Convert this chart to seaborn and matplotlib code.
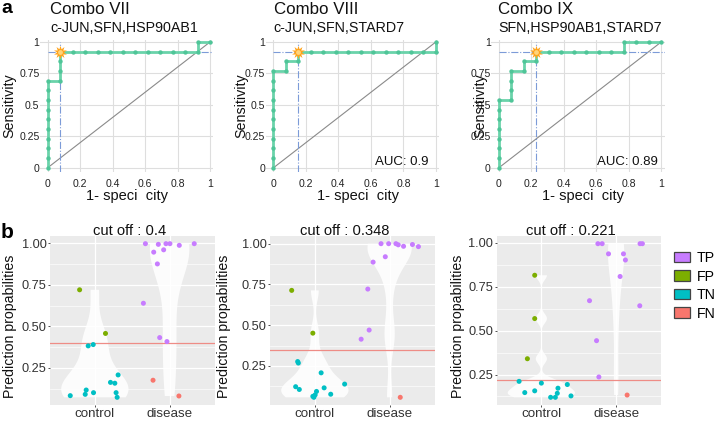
import numpy as np
import pandas as pd
import matplotlib
matplotlib.use("Agg")
import matplotlib.pyplot as plt
import seaborn as sns
from matplotlib.patches import Patch

plt.rcParams['font.family'] = ['Liberation Sans', 'DejaVu Sans']

# ---------------- data ----------------
combo_titles = ["Combo VII", "Combo VIII", "Combo IX"]
combo_genes = ["c-JUN,SFN,HSP90AB1", "c-JUN,SFN,STARD7", "SFN,HSP90AB1,STARD7"]
auc_labels = [None, "AUC: 0.9", "AUC: 0.89"]
cut_fpr = [0.077, 0.154, 0.231]
cut_tpr = [0.923, 0.923, 0.923]
cutoffs = [0.4, 0.348, 0.221]
cut_titles = ["cut off : 0.4", "cut off : 0.348", "cut off : 0.221"]

roc_fpr_vii = [0, 0, 0, 0, 0, 0, 0, 0, 0, 0,
               0.077, 0.077, 0.077, 0.077,
               0.154, 0.231, 0.308, 0.385, 0.462, 0.538, 0.615, 0.692, 0.769, 0.846, 0.923,
               0.923, 1.0]
roc_tpr_vii = [0, 0.077, 0.154, 0.231, 0.308, 0.385, 0.462, 0.538, 0.615, 0.692,
               0.692, 0.769, 0.846, 0.923,
               0.923, 0.923, 0.923, 0.923, 0.923, 0.923, 0.923, 0.923, 0.923, 0.923, 0.923,
               1.0, 1.0]
roc_fpr_viii = [0, 0, 0, 0, 0, 0, 0, 0, 0, 0, 0,
                0.077, 0.077, 0.154, 0.154,
                0.231, 0.308, 0.385, 0.462, 0.538, 0.615, 0.692, 0.769, 0.846, 0.923, 1.0,
                1.0]
roc_tpr_viii = [0, 0.077, 0.154, 0.231, 0.308, 0.385, 0.462, 0.538, 0.615, 0.692, 0.769,
                0.769, 0.846, 0.846, 0.923,
                0.923, 0.923, 0.923, 0.923, 0.923, 0.923, 0.923, 0.923, 0.923, 0.923, 0.923,
                1.0]
roc_fpr_ix = [0, 0, 0, 0, 0, 0, 0, 0,
              0.077, 0.077, 0.077, 0.077, 0.154, 0.154, 0.231, 0.231,
              0.308, 0.385, 0.462, 0.538, 0.615, 0.692, 0.769,
              0.769, 0.846, 0.923, 1.0]
roc_tpr_ix = [0, 0.077, 0.154, 0.231, 0.308, 0.385, 0.462, 0.538,
              0.538, 0.615, 0.692, 0.769, 0.769, 0.846, 0.846, 0.923,
              0.923, 0.923, 0.923, 0.923, 0.923, 0.923, 0.923,
              1.0, 1.0, 1.0, 1.0]

# prediction probabilities, group, class, horizontal jitter
grp_vii = ["control"] * 13 + ["disease"] * 14
cls_vii = ["FP"] * 2 + ["TN"] * 11 + ["TP"] * 12 + ["FN"] * 2
prob_vii = [0.720, 0.457,
            0.382, 0.390, 0.207, 0.162, 0.157, 0.116, 0.090, 0.100, 0.082, 0.100, 0.072,
            0.998, 0.994, 0.998, 0.998, 0.988, 0.998, 0.947, 0.961, 0.876, 0.639, 0.432, 0.408,
            0.175, 0.080]
jit_vii = [-0.204, 0.142,
           -0.089, -0.022, 0.311, 0.209, 0.267, -0.116, -0.129, -0.018, -0.329, 0.284, 0.298,
           -0.324, -0.151, -0.049, 0.004, 0.129, 0.329, -0.213, -0.080, -0.164, -0.351, -0.133, -0.036,
           -0.222, 0.124]

grp_viii = ["control"] * 14 + ["disease"] * 13
cls_viii = ["FP"] * 2 + ["TN"] * 12 + ["TP"] * 12 + ["FN"] * 1
prob_viii = [0.713, 0.451,
             0.277, 0.268, 0.208, 0.123, 0.106, 0.116, 0.139, 0.077, 0.094, 0.073, 0.064, 0.058,
             0.999, 0.999, 0.999, 0.992, 0.983, 0.994, 0.981, 0.919, 0.886, 0.721, 0.470, 0.414,
             0.058]
jit_viii = [-0.310, -0.027,
            -0.230, -0.221, 0.084, -0.257, -0.208, 0.124, 0.398, 0.212, 0.022, 0.004, -0.027, -0.013,
            -0.115, -0.013, 0.084, 0.115, 0.186, 0.305, 0.385, -0.058, -0.221, -0.292, -0.274, -0.381,
            0.142]

grp_ix = ["control"] * 13 + ["disease"] * 13
cls_ix = ["FP"] * 3 + ["TN"] * 10 + ["TP"] * 12 + ["FN"] * 1
prob_ix = [0.816, 0.569, 0.340,
           0.211, 0.201, 0.193, 0.172, 0.147, 0.157, 0.143, 0.128, 0.120, 0.120,
           0.996, 0.996, 0.996, 0.996, 0.938, 0.938, 0.903, 0.809, 0.671, 0.642, 0.443, 0.236,
           0.133]
jit_ix = [-0.089, -0.089, -0.187,
          -0.298, 0.000, 0.347, 0.222, -0.222, -0.089, 0.213, 0.396, 0.124, 0.187,
          -0.244, -0.187, 0.320, 0.351, -0.102, 0.098, 0.124, 0.053, -0.356, 0.316, -0.262, -0.231,
          0.147]

groups = ["control", "disease"]
classes = ["TP", "FP", "TN", "FN"]
class_colors = {"TP": "#C77CFF", "FP": "#7CAE00", "TN": "#00BFC4", "FN": "#F8766D"}

roc_sets = [(roc_fpr_vii, roc_tpr_vii), (roc_fpr_viii, roc_tpr_viii), (roc_fpr_ix, roc_tpr_ix)]
pred_sets = [(grp_vii, cls_vii, prob_vii, jit_vii),
             (grp_viii, cls_viii, prob_viii, jit_viii),
             (grp_ix, cls_ix, prob_ix, jit_ix)]

# ---------------- layout ----------------
W, H = 716, 423
fig = plt.figure(figsize=(W / 100, H / 100), dpi=100)


def rect(l, t, w, h):
    return [l / W, 1 - (t + h) / H, w / W, h / H]


def fy(y):
    return 1 - y / H


roc_lefts = [40.2, 266.0, 491.4]
roc_top, roc_w, roc_h = 40.0, 173.2, 132.3
title_x = [50, 273.5, 498.5]
xlab_x = [127, 358, 583]
sens_x = [9, 241, 480]

roc_col = "#6AD3AA"
roc_dot = "#4FC598"
ref_blue = "#7C9BD8"

for i in range(3):
    ax = fig.add_axes(rect(roc_lefts[i], roc_top, roc_w, roc_h))
    fpr, tpr = roc_sets[i]
    ax.set_facecolor("white")
    ax.set_xlim(-0.045, 1.02)
    ax.set_ylim(-0.035, 1.015)
    ax.plot([0, 1], [0, 1], color="#8A8A8A", lw=0.8, zorder=2)
    ax.hlines(cut_tpr[i], 0, 1.02, colors=ref_blue, linestyles="-.", lw=0.8, zorder=2)
    ax.vlines(cut_fpr[i], -0.035, 1.0, colors=ref_blue, linestyles="-.", lw=0.8, zorder=2)
    roc_df = pd.DataFrame({"fpr": fpr, "tpr": tpr})
    sns.lineplot(data=roc_df, x="fpr", y="tpr", sort=False, estimator=None,
                 color=roc_col, lw=2.0, ax=ax, zorder=3)
    sns.scatterplot(data=roc_df, x="fpr", y="tpr", color=roc_dot, s=10,
                    linewidth=0, ax=ax, zorder=4)
    ax.scatter([cut_fpr[i]], [cut_tpr[i]], marker=(10, 1, 0), s=95,
               color="#FFA31A", zorder=5, linewidths=0)
    ax.scatter([cut_fpr[i]], [cut_tpr[i]], marker="o", s=12,
               color="#FFD47A", zorder=6, linewidths=0)
    ax.set_xticks([0, 0.2, 0.4, 0.6, 0.8, 1.0])
    ax.set_xticklabels(["0", "0.2", "0.4", "0.6", "0.8", "1"])
    ax.set_yticks([0, 0.25, 0.5, 0.75, 1.0])
    ax.set_yticklabels(["0", "0.25", "0.5", "0.75", "1"])
    ax.tick_params(length=0, labelsize=7.6, labelcolor="#222222")
    ax.tick_params(axis="x", pad=4.5)
    ax.tick_params(axis="y", pad=0.5)
    ax.grid(True, color="#DEDEDE", lw=0.8)
    ax.set_axisbelow(True)
    for s in ax.spines.values():
        s.set_visible(False)
    ax.set_xlabel("")
    ax.set_ylabel("")
    if auc_labels[i]:
        ax.text(0.79, 0.045, auc_labels[i], ha="center", va="center", fontsize=9.5, color="#111111")
    fig.text(title_x[i] / W, fy(14.3), combo_titles[i], fontsize=12.2, ha="left",
             va="baseline", color="#111111")
    fig.text(title_x[i] / W, fy(31.5), combo_genes[i], fontsize=10.3, ha="left",
             va="baseline", color="#111111")
    fig.text(xlab_x[i] / W, fy(196), "1- speci  city", fontsize=10.5, ha="center",
             va="center", color="#111111")
    fig.text(sens_x[i] / W, fy(106), "Sensitivity", fontsize=10.3, ha="center",
             va="center", rotation=90, color="#111111")


def nrd0(kde):
    x = np.asarray(kde.dataset).ravel()
    sd = x.std(ddof=1)
    q75, q25 = np.percentile(x, [75, 25])
    lo = min(sd, (q75 - q25) / 1.34)
    if lo <= 0:
        lo = sd
    return 0.9 * lo * len(x) ** -0.2 / sd


pred_lefts = [50.0, 270.0, 496.5]
pred_top, pred_w, pred_h = 236.0, 164.5, 169.0
cut_title_x = [130, 345, 571]
plab_x = [10, 224, 458]

for i in range(3):
    grp, cls, prob, jit = pred_sets[i]
    df = pd.DataFrame({"group": grp, "cls": cls, "prob": prob, "jit": jit})
    df["xpos"] = df["group"].map({g: k for k, g in enumerate(groups)}) + df["jit"]
    ax = fig.add_axes(rect(pred_lefts[i], pred_top, pred_w, pred_h))
    ax.set_facecolor("#EBEBEB")
    n0 = len(ax.collections)
    sns.violinplot(data=df, x="group", y="prob", order=groups, cut=0,
                   density_norm="area", width=0.9, inner=None, color="white",
                   saturation=1, linewidth=0, bw_method=nrd0, gridsize=256, ax=ax)
    for c in ax.collections[n0:]:
        c.set_alpha(0.86)
        c.set_edgecolor("none")
        c.set_zorder(2)
    ax.axhline(cutoffs[i], color="#EE8C86", lw=0.9, zorder=3)
    sns.scatterplot(data=df, x="xpos", y="prob", hue="cls", palette=class_colors,
                    hue_order=classes, s=13, linewidth=0, legend=False, ax=ax, zorder=4)
    lo, hi = min(prob), max(prob)
    pad = 0.05 * (hi - lo)
    ax.set_ylim(lo - pad, hi + pad)
    ax.set_xlim(-0.6, 1.6)
    ax.set_xticks([0, 1])
    ax.set_xticklabels(groups)
    ax.set_yticks([0.25, 0.5, 0.75, 1.0])
    ax.set_yticklabels(["0.25", "0.50", "0.75", "1.00"])
    ax.set_yticks([0.125, 0.375, 0.625, 0.875], minor=True)
    ax.grid(True, which="major", color="white", lw=0.9)
    ax.grid(True, which="minor", axis="y", color="white", lw=0.45)
    ax.set_axisbelow(True)
    ax.tick_params(axis="both", which="major", length=1.5, width=0.6, color="#333333")
    ax.tick_params(axis="y", which="minor", length=0)
    ax.tick_params(axis="y", labelsize=9.2, labelcolor="#333333", pad=1)
    ax.tick_params(axis="x", labelsize=9.6, labelcolor="#333333", pad=0.6)
    for s in ax.spines.values():
        s.set_visible(False)
    ax.set_xlabel("")
    ax.set_ylabel("")
    fig.text(cut_title_x[i] / W, fy(234.5), cut_titles[i], fontsize=10.6, ha="center",
             va="baseline", color="#111111")
    fig.text(plab_x[i] / W, fy(326), "Prediction propabilities", fontsize=10.2,
             ha="center", va="center", rotation=90, color="#111111")

handles = [Patch(facecolor=class_colors[c], edgecolor="#444444", linewidth=0.9) for c in classes]
fig.legend(handles, classes, loc="upper left", bbox_to_anchor=(674 / W, fy(251)),
           bbox_transform=fig.transFigure, frameon=False, fontsize=10.2,
           handlelength=1.15, handleheight=0.75, handletextpad=0.45,
           labelspacing=0.32, borderaxespad=0, borderpad=0)

fig.text(1 / W, fy(13.3), "a", fontsize=14, fontweight="bold", ha="left", va="baseline")
fig.text(1 / W, fy(238.3), "b", fontsize=15, fontweight="bold", ha="left", va="baseline")

fig.savefig("out.png", dpi=100)
